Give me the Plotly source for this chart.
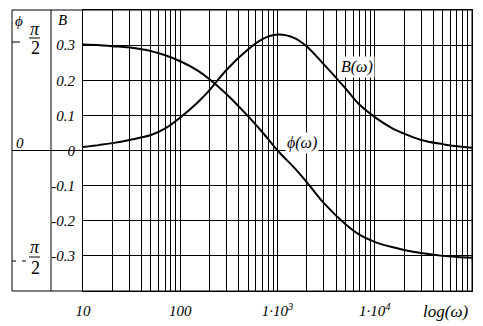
import plotly.graph_objects as go

W, H = 483, 326
L, R, T, B_ = 83, 11, 10, 35

omega = [10, 15, 20, 30, 50, 70, 100, 150, 200, 300, 500, 700, 1000, 1500,
         2000, 3000, 5000, 7000, 1e4, 1.5e4, 2e4, 3e4, 5e4, 7e4, 1e5]
B_vals = [0.010, 0.016, 0.021, 0.030, 0.044, 0.063, 0.094, 0.136, 0.172, 0.230,
          0.288, 0.317, 0.330, 0.320, 0.296, 0.245, 0.177, 0.130, 0.095, 0.064,
          0.048, 0.030, 0.018, 0.012, 0.008]
phi_vals = [0.302, 0.300, 0.297, 0.293, 0.283, 0.271, 0.254, 0.228, 0.203, 0.160,
            0.097, 0.052, 0.000, -0.050, -0.090, -0.150, -0.210, -0.240, -0.260,
            -0.275, -0.283, -0.292, -0.300, -0.303, -0.305]

x_major = [10, 100, 1000, 10000]
x_major_text = ["10", "100", "1·10<sup>3</sup>", "1·10<sup>4</sup>"]
x_minor = [m * 10 ** e for e in range(1, 5) for m in range(2, 10)] + [1e5]
y_ticks = [-0.3, -0.2, -0.1, 0, 0.1, 0.2, 0.3]
y_text = ["-0.3", "-0.2", "-0.1", "0", "0.1", "0.2", "0.3"]

FONT = "Liberation Serif, Times New Roman, serif"

def px(x):
    return (x - L) / (W - L - R)

def py(y):
    return (H - B_ - y) / (H - T - B_)

fig = go.Figure()
fig.add_trace(go.Scatter(x=omega, y=B_vals, mode="lines",
                         line=dict(color="black", width=2, shape="spline", smoothing=1)))
fig.add_trace(go.Scatter(x=omega, y=phi_vals, mode="lines",
                         line=dict(color="black", width=2, shape="spline", smoothing=1)))

fig.update_layout(
    width=W, height=H, margin=dict(l=L, r=R, t=T, b=B_, autoexpand=False),
    paper_bgcolor="white", plot_bgcolor="white", showlegend=False,
    xaxis=dict(type="log", range=[1, 5], tickvals=x_major, ticktext=x_major_text,
               showgrid=True, gridcolor="black", gridwidth=1, ticks="", automargin=False,
               minor=dict(tickvals=x_minor, showgrid=True, gridcolor="black", gridwidth=1, ticks=""),
               tickfont=dict(family=FONT, size=15, color="black", style="italic"),
               ticklabelstandoff=6, showline=True, linecolor="black", linewidth=1, mirror=True,
               zeroline=False, tickangle=0),
    yaxis=dict(range=[-0.4, 0.4], tickvals=y_ticks, ticktext=y_text, automargin=False,
               showgrid=True, gridcolor="black", gridwidth=1, ticks="",
               tickfont=dict(family=FONT, size=15, color="black", style="italic"),
               ticklabelstandoff=4, showline=True, linecolor="black", linewidth=1, mirror=True,
               zeroline=False),
)

shapes = [
    dict(type="rect", xref="paper", yref="paper", x0=px(12), x1=1, y0=0, y1=1,
         line=dict(color="black", width=1)),
    dict(type="line", xref="paper", yref="paper", x0=px(51), x1=px(51), y0=0, y1=1,
         line=dict(color="black", width=1)),
    dict(type="line", xref="paper", yref="y", x0=px(12), x1=0, y0=0, y1=0,
         line=dict(color="black", width=1)),
    dict(type="line", xref="paper", yref="paper", x0=px(12), x1=px(20), y0=py(42), y1=py(42),
         line=dict(color="black", width=1)),
    dict(type="line", xref="paper", yref="paper", x0=px(29), x1=px(40), y0=py(38), y1=py(38),
         line=dict(color="black", width=1)),
    dict(type="line", xref="paper", yref="paper", x0=px(12), x1=px(16), y0=py(261), y1=py(261),
         line=dict(color="black", width=1)),
    dict(type="line", xref="paper", yref="paper", x0=px(22), x1=px(26), y0=py(261), y1=py(261),
         line=dict(color="black", width=1)),
    dict(type="line", xref="paper", yref="paper", x0=px(29), x1=px(40), y0=py(257), y1=py(257),
         line=dict(color="black", width=1)),
]
fig.update_layout(shapes=shapes)

def ann(text, x, y, size=15, italic=True, bg=None):
    d = dict(text=text, xref="paper", yref="paper", x=px(x), y=py(y), showarrow=False,
             xanchor="center", yanchor="middle", borderpad=0,
             font=dict(family=FONT, size=size, color="black", style="italic" if italic else "normal"))
    if bg:
        d["bgcolor"] = bg
        d["borderpad"] = 1
    fig.add_annotation(**d)

ann("ϕ", 19, 21, 15)
ann("B", 62, 20, 15)
ann("π", 35, 29, 18)
ann("2", 35, 48, 18, italic=False)
ann("0", 20, 143, 15)
ann("π", 35, 247, 18)
ann("2", 35, 268, 18, italic=False)
ann("log(ω)", 445, 311, 17)
ann("B(ω)", 357, 67, 16, bg="white")
ann("ϕ(ω)", 302, 143, 16, bg="white")

fig.write_html("out.html")
